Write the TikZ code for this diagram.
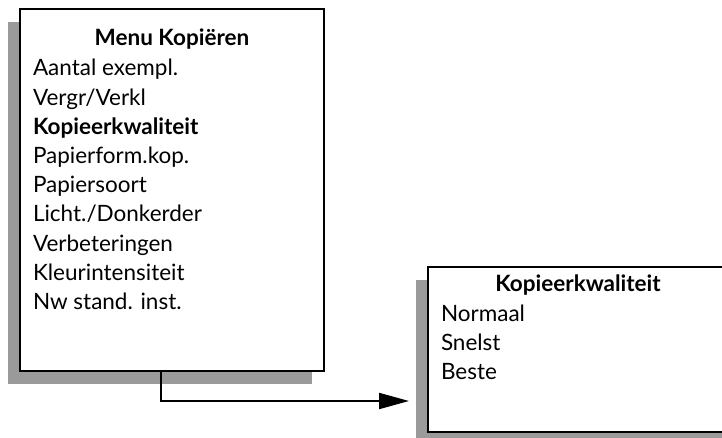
\documentclass[tikz,border=0pt]{standalone}
\usepackage{fontspec}
\setmainfont{Lato}
\usepackage{tikz}
\usetikzlibrary{shadows,arrows.meta}
\definecolor{shadowgray}{HTML}{9A9A9A}
\tikzset{%
  menubox/.style = {draw, line width=2pt, rectangle, fill=white,
    drop shadow={shadow xshift=-12pt, shadow yshift=-13pt, fill=shadowgray, opacity=1}},
  title/.style   = {anchor=base, font=\fontsize{22.5}{29}\selectfont\bfseries, inner sep=0pt},
  item/.style    = {anchor=base west, font=\fontsize{22.5}{29}\selectfont, inner sep=0pt}
}

\begin{document}
\begin{tikzpicture}[x=1pt, y=1pt, line width=2pt]
\useasboundingbox (0,0) rectangle (722,438);
\clip (0,0) rectangle (722,438);

\node[menubox, minimum width=304pt, minimum height=362pt] (menu) at (172,248) {};
\node[menubox, minimum width=340pt, minimum height=165pt] (kwal) at (598,88.5) {};

% menu kopieren
\node[title] (menutitle) at (172,392) {Menu Kopiëren};
\foreach \t [count=\i] in {Aantal exempl., Vergr/Verkl, \textbf{Kopieerkwaliteit},
    Papierform.kop., Papiersoort, Licht./Donkerder, Verbeteringen,
    Kleurintensiteit, Nw stand. inst.}
  \node[item] (m\i) at (32,{362-29.2*(\i-1)}) {\t};

% kopieerkwaliteit
\node[title] (kwaltitle) at (578,146) {Kopieerkwaliteit};
\foreach \t [count=\i] in {Normaal, Snelst, Beste}
  \node[item] (k\i) at (440,{116-28.7*(\i-1)}) {\t};

\coordinate (tip) at ([shift={(-18pt,32pt)}]kwal.south west);
\draw[-{Triangle[length=30pt,width=16pt]}] (menu.south -| 161,0) |- (tip);
\end{tikzpicture}
\end{document}
